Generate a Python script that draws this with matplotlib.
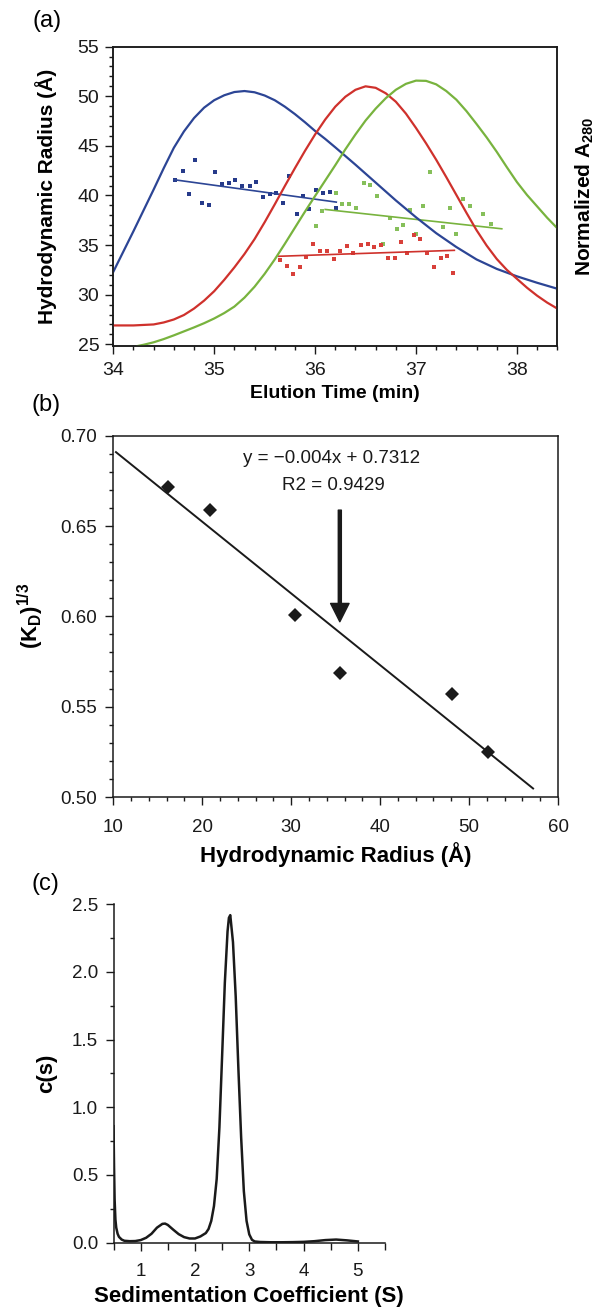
import numpy as np
import matplotlib
matplotlib.use("Agg")
import matplotlib.pyplot as plt
from matplotlib.ticker import MultipleLocator, FormatStrFormatter

plt.rcParams['font.family'] = ['Liberation Sans', 'DejaVu Sans']
plt.rcParams['mathtext.fontset'] = 'custom'
plt.rcParams['mathtext.rm'] = 'Liberation Sans'
plt.rcParams['mathtext.it'] = 'Liberation Sans:italic'
plt.rcParams['mathtext.bf'] = 'Liberation Sans:bold'

#######################################
# (a) elution profiles (normalized A280) and radius per slice
#######################################
blue_t = [34.0, 34.1, 34.2, 34.3, 34.4, 34.5, 34.6, 34.7, 34.8, 34.9, 35.0, 35.1,
          35.2, 35.3, 35.4, 35.5, 35.6, 35.7, 35.8, 35.9, 36.0, 36.1, 36.2, 36.4,
          36.6, 36.8, 37.0, 37.2, 37.4, 37.6, 37.8, 38.0, 38.2, 38.4, 38.5]
blue_a280 = [0.292, 0.374, 0.456, 0.540, 0.624, 0.710, 0.792, 0.858, 0.912, 0.954,
             0.984, 1.004, 1.017, 1.021, 1.016, 1.003, 0.984, 0.958, 0.928, 0.895,
             0.860, 0.828, 0.794, 0.724, 0.652, 0.580, 0.512, 0.448, 0.392, 0.342,
             0.304, 0.274, 0.248, 0.224, 0.212]

red_t = [34.0, 34.2, 34.4, 34.5, 34.6, 34.7, 34.8, 34.9, 35.0, 35.1, 35.2, 35.3,
         35.4, 35.5, 35.6, 35.7, 35.8, 35.9, 36.0, 36.1, 36.2, 36.3, 36.4, 36.5,
         36.6, 36.7, 36.8, 36.9, 37.0, 37.1, 37.2, 37.3, 37.4, 37.5, 37.6, 37.7,
         37.8, 37.9, 38.0, 38.1, 38.2, 38.3, 38.4, 38.5]
red_a280 = [0.076, 0.076, 0.080, 0.088, 0.100, 0.118, 0.144, 0.176, 0.214, 0.260,
            0.310, 0.364, 0.424, 0.492, 0.564, 0.638, 0.710, 0.780, 0.846, 0.906,
            0.958, 0.998, 1.026, 1.040, 1.034, 1.012, 0.978, 0.930, 0.872, 0.810,
            0.744, 0.674, 0.602, 0.530, 0.460, 0.398, 0.344, 0.300, 0.264, 0.228,
            0.196, 0.168, 0.144, 0.122]

green_t = [34.24, 34.3, 34.4, 34.5, 34.6, 34.7, 34.8, 34.9, 35.0, 35.1, 35.2, 35.3,
           35.4, 35.5, 35.6, 35.7, 35.8, 35.9, 36.0, 36.1, 36.2, 36.3, 36.4, 36.5,
           36.6, 36.7, 36.8, 36.9, 37.0, 37.1, 37.2, 37.3, 37.4, 37.5, 37.6, 37.7,
           37.8, 37.9, 38.0, 38.1, 38.2, 38.3, 38.4, 38.5]
green_a280 = [-0.007, -0.002, 0.008, 0.021, 0.036, 0.052, 0.068, 0.085, 0.104, 0.126,
              0.152, 0.188, 0.232, 0.284, 0.342, 0.405, 0.470, 0.535, 0.598, 0.660,
              0.722, 0.786, 0.846, 0.902, 0.950, 0.992, 1.026, 1.050, 1.063, 1.062,
              1.048, 1.021, 0.986, 0.940, 0.888, 0.834, 0.776, 0.714, 0.654, 0.602,
              0.556, 0.510, 0.468, 0.428]

blue_pt_t = [34.61, 34.69, 34.81, 34.75, 34.88, 34.95, 35.01, 35.08, 35.15, 35.21,
             35.28, 35.35, 35.41, 35.48, 35.55, 35.61, 35.68, 35.74, 35.82, 35.88,
             35.94, 36.01, 36.08, 36.15, 36.21]
blue_pt_r = [41.6, 42.5, 43.6, 40.1, 39.2, 39.0, 42.4, 41.2, 41.3, 41.6,
             41.0, 41.0, 41.4, 39.8, 40.1, 40.2, 39.2, 42.0, 38.1, 39.9,
             38.6, 40.5, 40.2, 40.3, 38.7]

green_pt_t = [36.01, 36.07, 36.21, 36.27, 36.34, 36.41, 36.48, 36.54, 36.61, 36.67,
              36.74, 36.81, 36.87, 36.94, 37.00, 37.07, 37.14, 37.27, 37.34, 37.40,
              37.47, 37.54, 37.66, 37.74]
green_pt_r = [36.9, 38.4, 40.2, 39.1, 39.1, 38.7, 41.3, 41.1, 39.9, 35.1,
              37.7, 36.6, 37.0, 38.5, 36.1, 38.9, 42.4, 36.8, 38.7, 36.1,
              39.6, 38.9, 38.1, 37.1]

red_pt_t = [35.65, 35.72, 35.78, 35.85, 35.91, 35.98, 36.05, 36.12, 36.19, 36.25,
            36.32, 36.38, 36.45, 36.52, 36.58, 36.65, 36.72, 36.79, 36.85, 36.91,
            36.98, 37.04, 37.11, 37.18, 37.25, 37.31, 37.37]
red_pt_r = [33.5, 32.9, 32.1, 32.8, 33.8, 35.1, 34.4, 34.4, 33.6, 34.4,
            34.9, 34.2, 35.0, 35.1, 34.8, 35.0, 33.7, 33.7, 35.3, 34.2,
            36.0, 35.6, 34.2, 32.8, 33.7, 33.9, 32.2]

# linear fits through each set of slices (ends of the drawn lines)
blue_fit_t = [34.60, 36.21]
blue_fit_r = [41.59, 39.33]
green_fit_t = [36.10, 37.85]
green_fit_r = [38.59, 36.64]
red_fit_t = [35.64, 37.38]
red_fit_r = [33.87, 34.47]

#######################################
# (b) (KD)^1/3 vs hydrodynamic radius
#######################################
rh = [16.2, 20.9, 30.45, 35.47, 48.1, 52.15]
kd13 = [0.6714, 0.6586, 0.6006, 0.5689, 0.5569, 0.5250]
fit_slope = -0.00397
fit_intercept = 0.7318
fit_range = [10.3, 57.2]
arrow_x = 35.47
arrow_y = [0.6588, 0.5970]

#######################################
# (c) c(s) distribution
#######################################
s_val = [0.50, 0.51, 0.52, 0.535, 0.55, 0.575, 0.60, 0.65, 0.70, 0.80, 0.90, 1.00,
         1.10, 1.20, 1.30, 1.40, 1.45, 1.50, 1.60, 1.70, 1.80, 1.90, 2.00, 2.10,
         2.20, 2.25, 2.30, 2.35, 2.40, 2.45, 2.50, 2.55, 2.60, 2.625, 2.65, 2.70,
         2.75, 2.80, 2.85, 2.90, 2.95, 3.00, 3.05, 3.10, 3.20, 3.40, 3.60, 3.80,
         4.00, 4.20, 4.40, 4.60, 4.80, 5.00]
cs_val = [0.86, 0.55, 0.32, 0.17, 0.11, 0.065, 0.042, 0.022, 0.013, 0.010, 0.011,
          0.018, 0.035, 0.065, 0.110, 0.138, 0.140, 0.130, 0.095, 0.062, 0.040,
          0.030, 0.030, 0.045, 0.070, 0.100, 0.160, 0.270, 0.470, 0.850, 1.380,
          1.920, 2.300, 2.400, 2.420, 2.220, 1.820, 1.280, 0.780, 0.380, 0.160,
          0.060, 0.020, 0.008, 0.004, 0.002, 0.002, 0.003, 0.005, 0.010, 0.018,
          0.022, 0.016, 0.008]

C_BLUE = '#2c4595'
C_RED = '#cf312c'
C_GREEN = '#78b33e'
DARK = '#1a1a1a'


def style_axes(ax, tick_fs, xpad, ypad):
    for sp in ax.spines.values():
        sp.set_linewidth(1.1)
        sp.set_color(DARK)
    ax.tick_params(which='both', direction='out', colors=DARK, width=1.0,
                   labelsize=tick_fs, top=False, right=False)
    ax.tick_params(which='major', length=6)
    ax.tick_params(which='minor', length=3.2)
    ax.tick_params(axis='x', which='both', pad=xpad)
    ax.tick_params(axis='y', which='both', pad=ypad)


fig = plt.figure(figsize=(6, 13.1), dpi=100)

# ---------------- (a) ----------------
ax = fig.add_axes([0.1888, 0.7359, 0.74, 0.2285])
ax.plot(blue_pt_t, blue_pt_r, 's', color='#263a8a', ms=2.8, mew=0)
ax.plot(green_pt_t, green_pt_r, 's', color='#86bf5a', ms=2.8, mew=0)
ax.plot(red_pt_t, red_pt_r, 's', color='#d8403a', ms=2.8, mew=0)
ax.plot(blue_fit_t, blue_fit_r, color=C_BLUE, lw=1.2)
ax.plot(green_fit_t, green_fit_r, color=C_GREEN, lw=1.2)
ax.plot(red_fit_t, red_fit_r, color=C_RED, lw=1.2)
ax.set_xlim(34, 38.4)
ax.set_ylim(24.83, 55)
ax.xaxis.set_major_locator(MultipleLocator(1))
ax.xaxis.set_minor_locator(MultipleLocator(0.2))
ax.yaxis.set_major_locator(MultipleLocator(5))
ax.yaxis.set_minor_locator(MultipleLocator(1))
style_axes(ax, 14, 5.5, 4)
ax.set_xlabel('Elution Time (min)', fontsize=14, fontweight='bold', va='center')
ax.xaxis.set_label_coords(0.5, -0.158)
ax.set_ylabel('Hydrodynamic Radius (Å)', fontsize=15, fontweight='bold',
              ha='center', va='center')
ax.yaxis.set_label_coords(-0.151, 0.5)

ax2 = ax.twinx()
ax2.plot(blue_t, blue_a280, color=C_BLUE, lw=1.6)
ax2.plot(red_t, red_a280, color=C_RED, lw=1.6)
ax2.plot(green_t, green_a280, color=C_GREEN, lw=1.6)
ax2.set_ylim((24.83 - 25) / 25, (55 - 25) / 25)
ax2.set_yticks([])
for sp in ax2.spines.values():
    sp.set_linewidth(1.1)
    sp.set_color(DARK)
ax2.set_ylabel('Normalized A$_{\\mathbf{280}}$', fontsize=15, fontweight='bold',
               ha='center', va='center')
ax2.yaxis.set_label_coords(1.061, 0.5)

# ---------------- (b) ----------------
bx = fig.add_axes([0.1888, 0.3916, 0.7412, 0.2758])
xf = np.array(fit_range)
bx.plot(xf, fit_slope * xf + fit_intercept, color=DARK, lw=1.4)
bx.plot(rh, kd13, 'D', color=DARK, ms=7, mew=0)
bx.annotate('', xy=(arrow_x, arrow_y[1]), xytext=(arrow_x, arrow_y[0]),
            arrowprops=dict(facecolor=DARK, edgecolor=DARK, width=2.2,
                            headwidth=13.3, headlength=13.2, shrink=0))
bx.text(34.5, 0.6874, 'y = \u22120.004x + 0.7312', fontsize=13.5,
        ha='center', va='center', color=DARK)
bx.text(34.8, 0.6723, 'R2 = 0.9429', fontsize=13.5, ha='center', va='center',
        color=DARK)
bx.set_xlim(10, 60)
bx.set_ylim(0.50, 0.70)
bx.xaxis.set_major_locator(MultipleLocator(10))
bx.xaxis.set_minor_locator(MultipleLocator(2))
bx.yaxis.set_major_locator(MultipleLocator(0.05))
bx.yaxis.set_minor_locator(MultipleLocator(0.01))
bx.yaxis.set_major_formatter(FormatStrFormatter('%.2f'))
style_axes(bx, 13.5, 9.5, 6)
bx.set_xlabel('Hydrodynamic Radius (Å)', fontsize=16, fontweight='bold', va='center')
bx.xaxis.set_label_coords(0.5, -0.1605)
bx.set_ylabel('$\\mathbf{(K_{D})^{1/3}}$', fontsize=16, ha='center', va='center')
bx.yaxis.set_label_coords(-0.185, 0.5)

# ---------------- (c) ----------------
cx = fig.add_axes([0.1892, 0.0515, 0.4525, 0.2582])
cx.plot(s_val, cs_val, color=DARK, lw=1.8)
cx.set_xlim(0.5, 5.5)
cx.set_ylim(0, 2.5)
cx.xaxis.set_major_locator(MultipleLocator(1))
cx.xaxis.set_minor_locator(MultipleLocator(0.5))
cx.yaxis.set_major_locator(MultipleLocator(0.5))
cx.yaxis.set_minor_locator(MultipleLocator(0.25))
cx.yaxis.set_major_formatter(FormatStrFormatter('%.1f'))
cx.spines['top'].set_visible(False)
cx.spines['right'].set_visible(False)
style_axes(cx, 13.5, 9, 5)
cx.tick_params(axis='x', which='minor', length=5)
cx.set_xlabel('Sedimentation Coefficient (S)', fontsize=16, fontweight='bold',
              va='center')
cx.xaxis.set_label_coords(0.5, -0.161)
cx.set_ylabel('c(s)', fontsize=16, fontweight='bold', ha='center', va='center')
cx.yaxis.set_label_coords(-0.247, 0.5)

# panel letters
fig.text(47.5 / 600, 1 - 21 / 1310, '(a)', fontsize=17, ha='center', va='center')
fig.text(46 / 600, 1 - 405 / 1310, '(b)', fontsize=17, ha='center', va='center')
fig.text(45 / 600, 1 - 884 / 1310, '(c)', fontsize=17, ha='center', va='center')

fig.savefig('out.png', dpi=100)
